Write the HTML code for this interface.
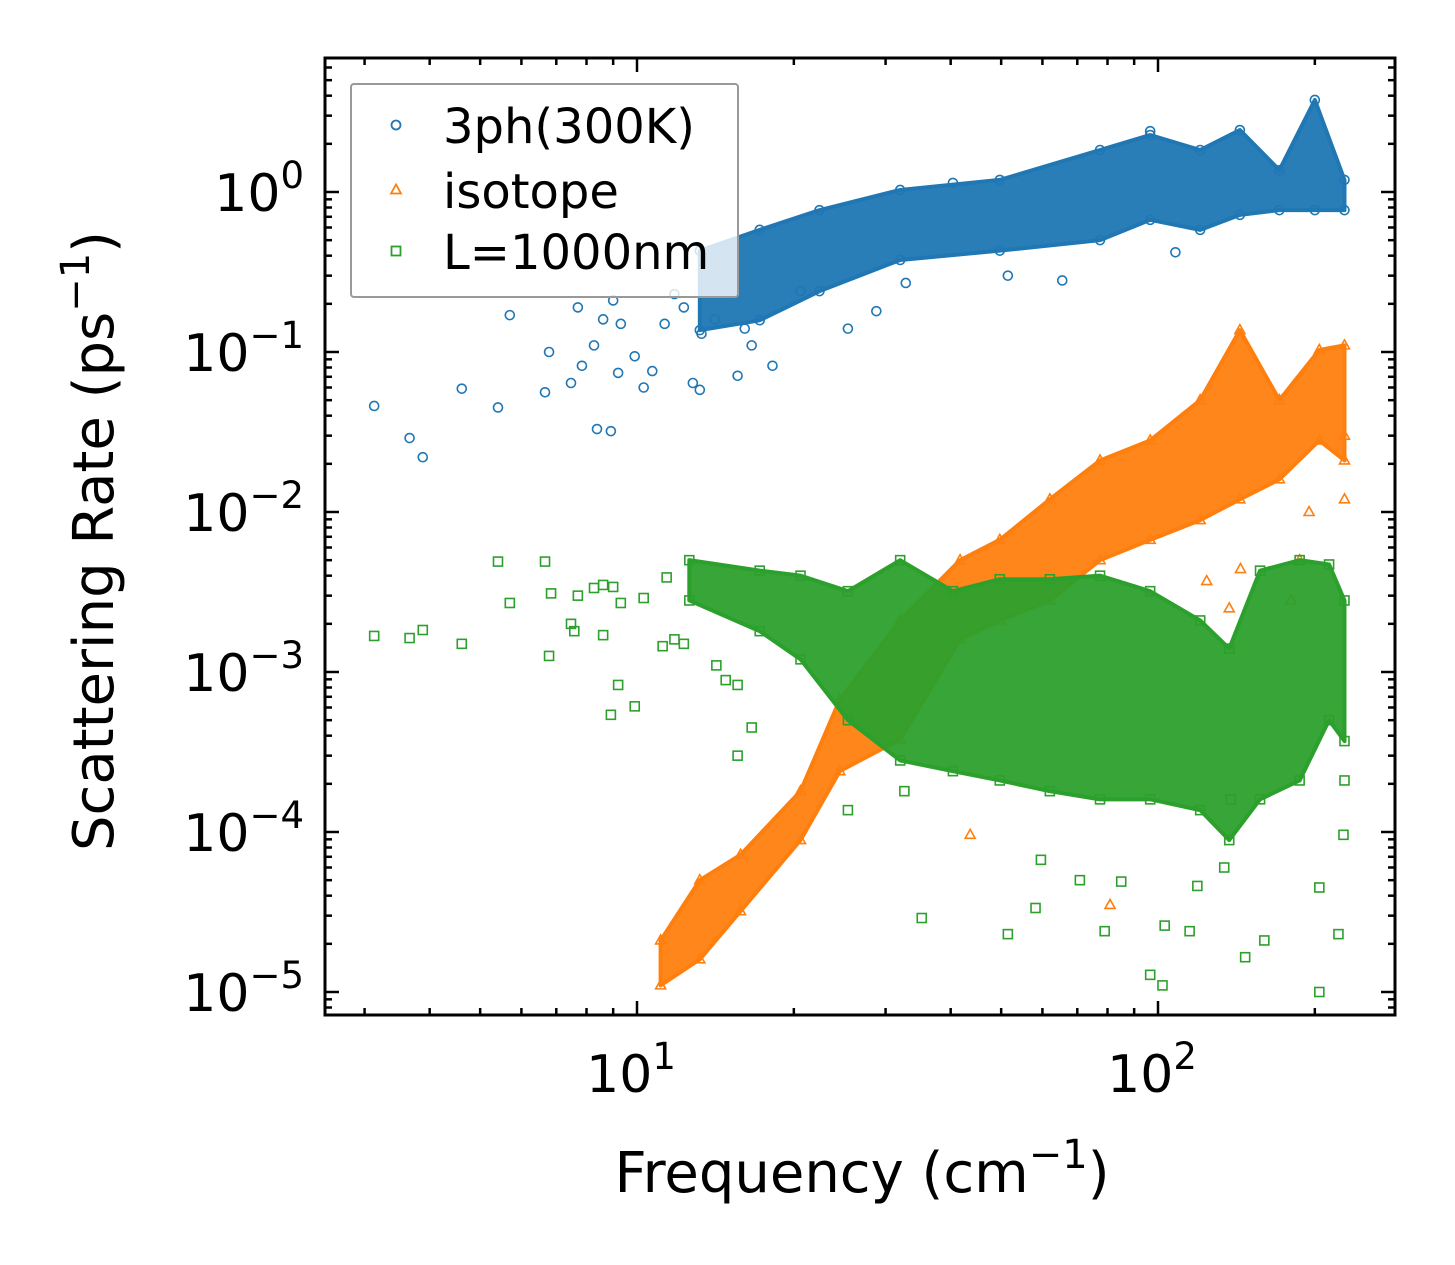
<!DOCTYPE html>
<html><head><meta charset="utf-8"><style>
html,body{margin:0;padding:0;background:#fff;}
svg{display:block;font-family:"DejaVu Sans","Liberation Sans",sans-serif;}
</style></head><body>
<svg id="chart" width="1455" height="1265" viewBox="0 0 1455 1265">
<rect x="0" y="0" width="1455" height="1265" fill="#fff"/>
<g id="series"></g>
<g id="axes"></g>
</svg>
<script>
// ---- data ----
const blueFreq=[3.13,3.66,3.88,4.61,5.41,5.70,6.66,6.78,7.47,7.70,7.84,8.27,8.38,8.61,8.91,9.0,9.2,9.31,9.9,10.3,10.7,11.3,11.8,12.3,12.8,13.2,13.3,14.1,15.6,16.1,16.6,18.2,20.6,25.4,28.8,32.8,51.5,65.5,108,40.4,96.6];
const blueRate=[0.046,0.029,0.022,0.059,0.045,0.17,0.056,0.10,0.064,0.19,0.082,0.11,0.033,0.16,0.032,0.21,0.074,0.15,0.094,0.06,0.076,0.15,0.23,0.19,0.064,0.058,0.13,0.16,0.071,0.14,0.11,0.082,0.24,0.14,0.18,0.27,0.30,0.28,0.42,1.14,2.4];
const blueBandFreq=[13.2,17.2,22.4,32.0,49.7,77.4,96.6,120.5,143.6,171,200,228];
const blueBandLo=[0.137,0.158,0.24,0.376,0.43,0.5,0.67,0.58,0.72,0.77,0.77,0.77];
const blueBandHi=[0.43,0.58,0.77,1.03,1.19,1.83,2.27,1.83,2.44,1.37,3.76,1.19];

const orangeFreq=[80.9,43.6,228,228,195,124,137,180,144,187];
const orangeRate=[3.5e-5,9.6e-5,0.03,0.012,0.01,3.7e-3,2.5e-3,2.8e-3,4.4e-3,5e-3];
const orangeBandFreq=[11.1,13.2,15.8,20.6,24.5,32,41.7,49.7,62,77.4,96.6,120.5,143.6,171,204,228];
const orangeBandLo=[1.1e-5,1.6e-5,3.2e-5,8.9e-5,2.4e-4,3.8e-4,1.6e-3,2.1e-3,2.8e-3,5e-3,6.7e-3,8.9e-3,1.2e-2,1.6e-2,2.8e-2,2.1e-2];
const orangeBandHi=[2.1e-5,5e-5,7.2e-5,1.8e-4,6.7e-4,2.1e-3,5e-3,6.7e-3,1.2e-2,2.1e-2,2.8e-2,5e-2,0.137,5e-2,0.103,0.11];

const greenFreq=[3.13,3.66,3.88,4.61,5.41,5.70,6.66,6.78,6.84,7.47,7.58,7.70,8.27,8.61,8.61,8.91,9.0,9.2,9.31,9.9,10.3,11.2,11.4,11.8,12.3,14.2,14.8,15.6,15.6,16.6,25.4,32.6,35.2,51.5,58.2,79,85,96.6,102,103,115,119,134,147,160,204,204,222,227,228,138,59.6,70.8];
const greenRate=[1.68e-3,1.63e-3,1.83e-3,1.5e-3,4.9e-3,2.7e-3,4.9e-3,1.26e-3,3.1e-3,2.0e-3,1.8e-3,3.0e-3,3.35e-3,1.7e-3,3.5e-3,5.4e-4,3.4e-3,8.3e-4,2.7e-3,6.1e-4,2.9e-3,1.45e-3,3.9e-3,1.6e-3,1.5e-3,1.1e-3,8.9e-4,8.3e-4,3.0e-4,4.5e-4,1.37e-4,1.8e-4,2.9e-5,2.3e-5,3.35e-5,2.4e-5,4.9e-5,1.28e-5,1.1e-5,2.6e-5,2.4e-5,4.6e-5,6e-5,1.65e-5,2.1e-5,4.5e-5,1.0e-5,2.3e-5,9.6e-5,2.1e-4,1.6e-4,6.7e-5,5e-5];
const greenBandFreq=[12.6,17.2,20.6,25.4,32,40.4,49.7,62,77.4,96.6,120.5,137,157,187,213,228];
const greenBandLo=[2.8e-3,1.8e-3,1.2e-3,5e-4,2.8e-4,2.4e-4,2.1e-4,1.8e-4,1.6e-4,1.6e-4,1.37e-4,8.9e-5,1.6e-4,2.1e-4,5e-4,3.7e-4];
const greenBandHi=[5e-3,4.3e-3,4.0e-3,3.2e-3,5e-3,3.2e-3,3.8e-3,3.8e-3,4e-3,3.2e-3,2.1e-3,1.4e-3,4.3e-3,5e-3,4.7e-3,2.8e-3];

const xTickVals=[10,100];
const xTickExp=["1","2"];
const yTickVals=[1,0.1,0.01,0.001,0.0001,0.00001];
const yTickExp=["0","−1","−2","−3","−4","−5"];

// ---- axes ----
const L=325,R=1395,T=58,B=1015;
const X=f=>637+521*(Math.log10(f)-1);
const Y=v=>192-160*Math.log10(v);
const NS="http://www.w3.org/2000/svg";
const S=document.getElementById('series');
const A=document.getElementById('axes');
function mk(tag,attrs,parent){const e=document.createElementNS(NS,tag);for(const k in attrs)e.setAttribute(k,attrs[k]);parent.appendChild(e);return e;}

const clip=mk('clipPath',{id:'pc'},document.getElementById('chart'));
mk('rect',{x:L,y:T,width:R-L,height:B-T},clip);
S.setAttribute('clip-path','url(#pc)');

function marker(kind,f,v,color,parent){
  const x=X(f),y=Y(v);let e;
  if(kind==='circle'){e=mk('circle',{cx:x,cy:y,r:4.5,fill:'none',stroke:color,'stroke-width':1.6},parent);}
  else if(kind==='tri'){e=mk('polygon',{points:`${x},${y-5.5} ${x-5},${y+3.5} ${x+5},${y+3.5}`,fill:'none',stroke:color,'stroke-width':1.6},parent);}
  else {e=mk('rect',{x:x-4.5,y:y-4.5,width:9,height:9,fill:'none',stroke:color,'stroke-width':1.6},parent);}
  return e;
}
function series(name,kind,color,fr,rt,bf,lo,hi){
  const g=mk('g',{},S);
  
  
  let d='';
  bf.forEach((f,i)=>{d+=(i?'L':'M')+X(f)+','+Y(hi[i]);});
  for(let i=bf.length-1;i>=0;i--)d+='L'+X(bf[i])+','+Y(lo[i]);
  const p=mk('path',{d:d+'Z',fill:color,stroke:color,'stroke-width':4,'stroke-linejoin':'round','fill-opacity':0.95},g);
  
  
  bf.forEach((f,i)=>{marker(kind,f,lo[i],color,g);marker(kind,f,hi[i],color,g);});
  fr.forEach((f,i)=>{
    const m=marker(kind,f,rt[i],color,g);
    
    
  });
}
series('3ph-300k','circle','#1f77b4',blueFreq,blueRate,blueBandFreq,blueBandLo,blueBandHi);
series('isotope','tri','#ff7f0e',orangeFreq,orangeRate,orangeBandFreq,orangeBandLo,orangeBandHi);
series('l-1000nm','square','#2ca02c',greenFreq,greenRate,greenBandFreq,greenBandLo,greenBandHi);

// frame
const fr=mk('rect',{x:L,y:T,width:R-L,height:B-T,fill:'none',stroke:'#000','stroke-width':3},A);


for(let dec=0;dec<=2;dec++){for(let m=1;m<10;m++){const f=m*Math.pow(10,dec);const x=X(f);if(x<L||x>R)continue;const len=m===1?14:7;
  mk('line',{x1:x,y1:B,x2:x,y2:B-len,stroke:'#000','stroke-width':2.5},A);
  mk('line',{x1:x,y1:T,x2:x,y2:T+len,stroke:'#000','stroke-width':2.5},A);}}
for(let dec=-6;dec<=1;dec++){for(let m=1;m<10;m++){const v=m*Math.pow(10,dec);const y=Y(v);if(y<T||y>B)continue;const len=m===1?14:7;
  mk('line',{x1:L,y1:y,x2:L+len,y2:y,stroke:'#000','stroke-width':2.5},A);
  mk('line',{x1:R,y1:y,x2:R-len,y2:y,stroke:'#000','stroke-width':2.5},A);}}
xTickVals.forEach((v,i)=>{
  const t=mk('text',{x:X(v)-6,y:1092,'font-size':52,'text-anchor':'middle'},A);
  
  
  t.innerHTML='10<tspan dy="-23" font-size="37">'+xTickExp[i]+'</tspan>';
});
yTickVals.forEach((v,i)=>{
  const t=mk('text',{x:304,y:Y(v)+19,'font-size':52,'text-anchor':'end'},A);
  
  
  t.innerHTML='10<tspan dy="-23" font-size="37">'+yTickExp[i]+'</tspan>';
});

const svg=document.getElementById('chart');
const xt=mk('text',{x:862,y:1192,'font-size':56,'text-anchor':'middle'},svg);


xt.innerHTML='Frequency (cm<tspan dy="-24" font-size="40">−1</tspan><tspan dy="24">)</tspan>';
const yt=mk('text',{x:0,y:0,'font-size':56,'text-anchor':'middle',transform:'translate(113,541) rotate(-90)'},svg);


yt.innerHTML='Scattering Rate (ps<tspan dy="-24" font-size="40">−1</tspan><tspan dy="24">)</tspan>';
const lg=mk('g',{},svg);


mk('rect',{x:351,y:84,width:387,height:213,fill:'#fff','fill-opacity':0.8,stroke:'#999','stroke-width':2,rx:3},lg);
const leg=[['3ph(300K)','#1f77b4','c',125],['isotope','#ff7f0e','t',190],['L=1000nm','#2ca02c','s',251]];
leg.forEach(([lab,col,k,y])=>{
  const e=mk('g',{},lg);
  
  
  if(k==='c')mk('circle',{cx:396,cy:y,r:4.5,fill:'none',stroke:col,'stroke-width':1.8},e);
  else if(k==='t')mk('polygon',{points:`396,${y-5.5} 391,${y+3.5} 401,${y+3.5}`,fill:'none',stroke:col,'stroke-width':1.8},e);
  else mk('rect',{x:391.5,y:y-4.5,width:9,height:9,fill:'none',stroke:col,'stroke-width':1.8},e);
  const t=mk('text',{x:443,y:y+18,'font-size':48},e);
  t.textContent=lab;
});
</script>
</body></html>
